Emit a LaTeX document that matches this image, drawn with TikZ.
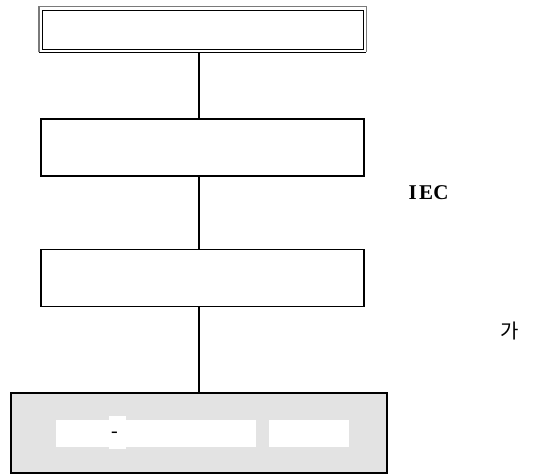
\documentclass[tikz,border=0pt]{standalone}
\usepackage{fontspec}
\setmainfont{Liberation Serif}
\newfontfamily\krfont{Noto Sans CJK KR}
\definecolor{panelgray}{HTML}{E3E3E3}
\definecolor{edgegray}{HTML}{7A7A7A}
\tikzset{
  stagebox/.style={draw=black, line width=1.7pt, fill=white, inner sep=0pt},
  link/.style={draw=black, line width=1.6pt},
  blank/.style={fill=white, draw=none, inner sep=0pt},
}
\begin{document}
\begin{tikzpicture}[x=1pt, y=-1pt]
  \useasboundingbox (0,0) rectangle (533,475);

  % title box with double frame
  \node[inner sep=0pt, minimum width=327pt, minimum height=45.5pt] (b1) at (202.5,29.25) {};
  \draw[edgegray, line width=1.4pt] (b1.south west) -- (b1.north west) -- (b1.north east) -- (b1.south east);
  \draw[black, line width=1.3pt] (b1.south west) -- (b1.south east);
  \draw[black, line width=0.9pt] (42,10) rectangle (363,49);

  % middle stages
  \node[stagebox, minimum width=323pt, minimum height=57pt] (b2) at (202.5,147.5) {};
  \node[stagebox, minimum width=323pt, minimum height=57pt] (b3) at (202.5,278) {};

  % bottom panel
  \node[stagebox, fill=panelgray, minimum width=376pt, minimum height=80pt] (b4) at (199,433) {};
  \node[blank, minimum width=200pt, minimum height=27pt] (w1) at (156,433.5) {};
  \node[blank, minimum width=17pt, minimum height=33pt] (w1b) at (117.5,432.5) {};
  \node[inner sep=0pt, font=\fontsize{20}{20}\selectfont] (dash) at (114.5,435) {-};
  \node[blank, minimum width=80pt, minimum height=27pt] (w2) at (309,433.5) {};

  % connectors
  \draw[link] (b1.south -| b4.north) -- (b2.north -| b4.north);
  \draw[link] (b2.south -| b4.north) -- (b3.north -| b4.north);
  \draw[link] (b3.south -| b4.north) -- (b4.north);

  % side labels
  \node[font=\fontsize{21}{21}\selectfont\bfseries, inner sep=0pt] (iec) at (428.5,193) {I\kern2.5pt EC};
  \node[font=\krfont\fontsize{20}{20}\selectfont, inner sep=0pt] (ga) at (510,331) {가};
\end{tikzpicture}
\end{document}
